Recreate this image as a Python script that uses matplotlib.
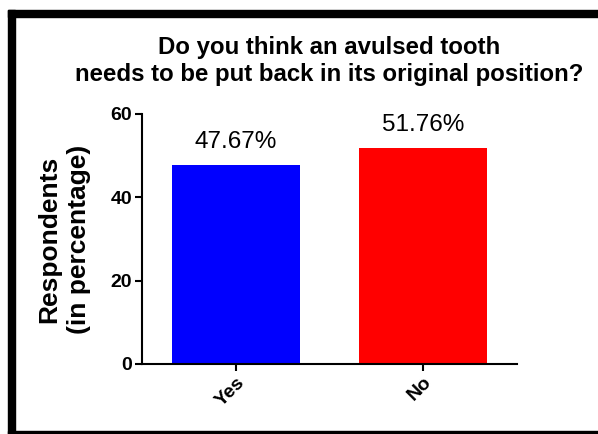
import matplotlib
matplotlib.use("Agg")
import matplotlib.pyplot as plt
from matplotlib.patches import Rectangle

# survey answers
categories = ["Yes", "No"]
percentages = [47.67, 51.76]
bar_colors = ["#0000ff", "#ff0000"]
yticks = [0, 20, 40, 60]

plt.rcParams['font.family'] = ['Liberation Sans', 'DejaVu Sans']

W, H = 598, 434
fig = plt.figure(figsize=(W / 100, H / 100), dpi=100)

# axes placed in pixel terms of the reference
x0, x1 = 142, 517
y0, y1 = 364, 114
ax = fig.add_axes([x0 / W, (H - y0) / H, (x1 - x0) / W, (y0 - y1) / H])

xpos = range(len(categories))
bars = ax.bar(xpos, percentages, width=0.685, color=bar_colors)

# value labels above bars
for b, v in zip(bars, percentages):
    ax.annotate(f"{v:.2f}%", (b.get_x() + b.get_width() / 2, v),
                xytext=(0, 9), textcoords="offset points",
                ha="center", va="bottom", fontsize=17.5)

ax.set_xlim(-0.5, 1.5)
ax.set_ylim(0, 60)
ax.set_yticks(yticks)
ax.set_xticks(list(xpos))
ax.set_xticklabels(categories, rotation=45, ha="right", rotation_mode="anchor",
                   fontweight="bold", fontsize=14)
for lab in ax.get_yticklabels():
    lab.set_fontweight("bold")
    lab.set_fontsize(14)

for side in ["top", "right"]:
    ax.spines[side].set_visible(False)
for side in ["left", "bottom"]:
    ax.spines[side].set_linewidth(1.5)
ax.tick_params(width=1.5, length=5, pad=2)

ax.set_ylabel("Respondents\n(in percentage)", fontsize=19, fontweight="bold",
              labelpad=14, linespacing=1.3)
ax.set_title("Do you think an avulsed tooth\nneeds to be put back in its original position?",
             fontsize=17.3, fontweight="bold", pad=24, linespacing=1.2)

# black frame around the picture (top, left, bottom)
fig.patches.append(Rectangle((8 / W, (H - 17) / H), 1 - 8 / W, 7 / H,
                             transform=fig.transFigure, color="black"))
fig.patches.append(Rectangle((8 / W, 0), 7 / W, (H - 10) / H,
                             transform=fig.transFigure, color="black"))
fig.patches.append(Rectangle((8 / W, 0), 1 - 8 / W, 3 / H,
                             transform=fig.transFigure, color="black"))

plt.savefig("out.png", dpi=100)
